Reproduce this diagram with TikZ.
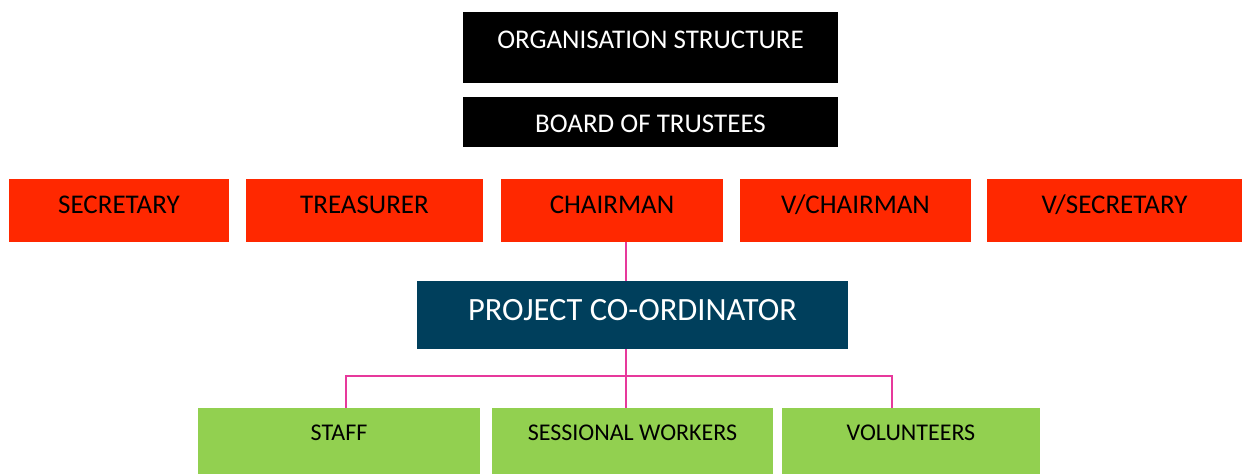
\documentclass[tikz,border=0pt]{standalone}
\usepackage{fontspec}
\setmainfont{Carlito}
\usepackage{tikz}
\usetikzlibrary{positioning}
\definecolor{officered}{RGB}{255,40,0}
\definecolor{coordblue}{RGB}{0,63,92}
\definecolor{workgreen}{RGB}{146,208,80}
\definecolor{linkpink}{RGB}{231,57,156}
\tikzstyle{box}=[rectangle,inner sep=0pt,outer sep=0pt,align=center]
\tikzstyle{header}=[box,fill=black,text=white,minimum width=375pt,font=\fontsize{27}{30}\selectfont]
\tikzstyle{officer}=[box,fill=officered,text=black,text height=34pt,text depth=29pt,font=\fontsize{27}{30}\selectfont]
\tikzstyle{coord}=[box,fill=coordblue,text=white,minimum width=431pt,text height=39pt,text depth=29pt,font=\fontsize{32.5}{36}\selectfont]
\tikzstyle{worker}=[box,fill=workgreen,text=black,text height=32pt,text depth=34pt,font=\fontsize{24}{28}\selectfont]
\tikzstyle{link}=[draw=linkpink,line width=2.6pt]

\begin{document}
\begin{tikzpicture}[x=1pt,y=-1pt]
      \useasboundingbox (0,0) rectangle (1242,474);
      \node[header, text height=36pt, text depth=35pt] at (650.5,47.5) (org) {ORGANISATION STRUCTURE};
      \node[header, text height=35pt, text depth=15pt] at (650.5,122) (board) {BOARD OF TRUSTEES};
      \node[officer, minimum width=220pt] at (119,210.5) (sec) {SECRETARY};
      \node[officer, minimum width=237pt] at (364.5,210.5) (tre) {TREASURER};
      \node[officer, minimum width=222pt] at (612,210.5) (cha) {CHAIRMAN};
      \node[officer, minimum width=231pt] at (855.5,210.5) (vch) {V/CHAIRMAN};
      \node[officer, minimum width=255pt] at (1114.5,210.5) (vse) {V/SECRETARY};
      \node[coord] at (632.5,315) (pc) {PROJECT CO-ORDINATOR};
      \node[worker, minimum width=282pt] at (339,441) (staff) {STAFF};
      \node[worker, minimum width=281pt] at (632.5,441) (ses) {SESSIONAL WORKERS};
      \node[worker, minimum width=258pt] at (911,441) (vol) {VOLUNTEERS};
      \coordinate (trunk) at (626,376);
      \coordinate (lbar) at (346,376);
      \coordinate (rbar) at (892,376);
      \draw[link] (cha.south -| trunk) -- (pc.north -| trunk);
      \draw[link] (pc.south -| trunk) -- (ses.north -| trunk);
      \draw[link] (staff.north -| lbar) -- (lbar) -- (rbar) -- (vol.north -| rbar);
    \end{tikzpicture}
\end{document}
